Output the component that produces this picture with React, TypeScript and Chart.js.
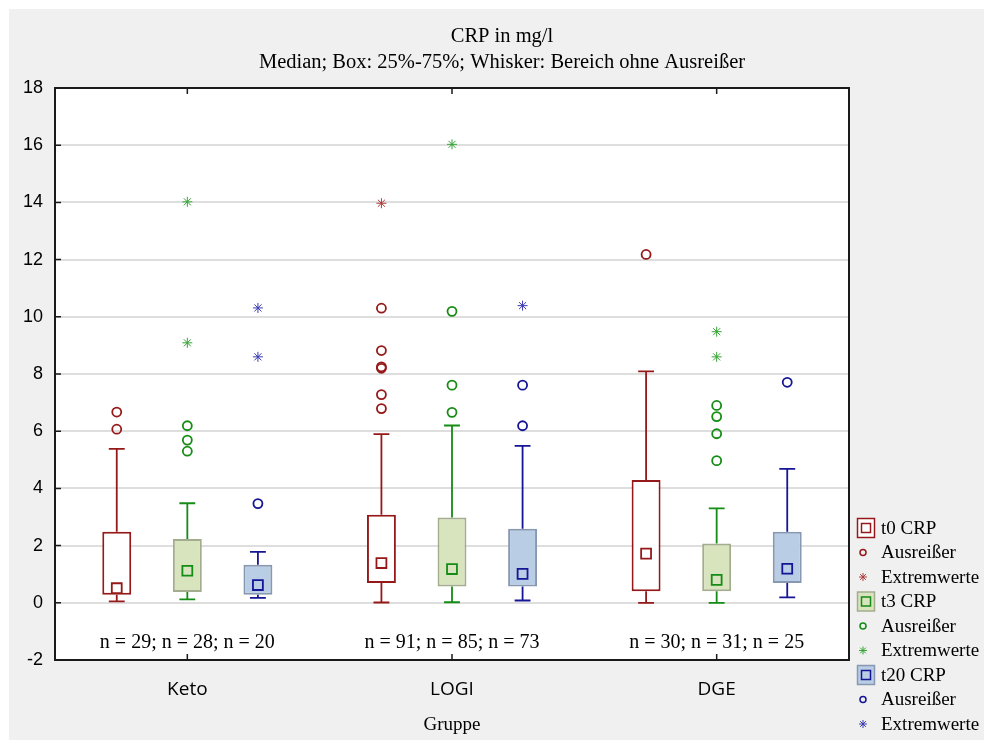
import React, { useEffect, useRef } from 'react';
import { Chart, registerables } from 'chart.js';
Chart.register(...registerables);

const groups = ['Keto', 'LOGI', 'DGE'];
const nLabels = ['n = 29; n = 28; n = 20', 'n = 91; n = 85; n = 73', 'n = 30; n = 31; n = 25'];
const titleText = 'CRP in mg/l';
const subtitleText = 'Median; Box: 25%-75%; Whisker: Bereich ohne Ausreißer';
const xTitle = 'Gruppe';
const seriesNames = ['t0 CRP', 't3 CRP', 't20 CRP'];
const outlierLabel = 'Ausreißer';
const extremeLabel = 'Extremwerte';
const yMin = -2;
const yMax = 18;
const yStep = 2;

// t0 CRP
const t0Q1 = [0.28, 0.69, 0.4];
const t0Q3 = [2.48, 3.08, 4.29];
const t0Median = [0.51, 1.39, 1.72];
const t0Min = [0.05, 0.01, 0.0];
const t0Max = [5.38, 5.9, 8.09];
const t0Outliers = [[6.67, 6.07], [10.3, 8.82, 8.25, 8.2, 7.28, 6.79], [12.18]];
const t0Extremes = [[], [13.97], []];

// t3 CRP
const t3Q1 = [0.38, 0.57, 0.4];
const t3Q3 = [2.23, 2.98, 2.07];
const t3Median = [1.12, 1.18, 0.8];
const t3Min = [0.12, 0.02, 0.0];
const t3Max = [3.48, 6.2, 3.3];
const t3Outliers = [[6.19, 5.69, 5.3], [10.19, 7.61, 6.66], [6.9, 6.51, 5.91, 4.97]];
const t3Extremes = [[9.09, 14.02], [16.03], [9.48, 8.6]];

// t20 CRP
const t20Q1 = [0.28, 0.57, 0.69];
const t20Q3 = [1.33, 2.59, 2.48];
const t20Median = [0.62, 1.01, 1.19];
const t20Min = [0.17, 0.08, 0.19];
const t20Max = [1.78, 5.49, 4.68];
const t20Outliers = [[3.47], [7.61, 6.19], [7.71]];
const t20Extremes = [[10.31, 8.6], [10.39], []];

const styles = [
  { dark: '#961919', boxFill: '#ffffff', boxBorder: '#961919', extreme: '#b03a3a' },
  { dark: '#158c15', boxFill: '#d7e4bd', boxBorder: '#a3ad8e', extreme: '#37a537' },
  { dark: '#151596', boxFill: '#b9cde5', boxBorder: '#8898b2', extreme: '#3a3ab0' },
];

const series = [
  { q1: t0Q1, q3: t0Q3, med: t0Median, min: t0Min, max: t0Max, out: t0Outliers, ext: t0Extremes },
  { q1: t3Q1, q3: t3Q3, med: t3Median, min: t3Min, max: t3Max, out: t3Outliers, ext: t3Extremes },
  { q1: t20Q1, q3: t20Q3, med: t20Median, min: t20Min, max: t20Max, out: t20Outliers, ext: t20Extremes },
];

const SERIF = '"Liberation Serif", "Times New Roman", serif';
const SANS = '"Liberation Sans", Arial, sans-serif';
const XSANS = '"Open Sans", "Noto Sans", sans-serif';

function drawStar(ctx: CanvasRenderingContext2D, x: number, y: number, r: number) {
  ctx.beginPath();
  ctx.moveTo(x - r, y); ctx.lineTo(x + r, y);
  ctx.moveTo(x, y - r); ctx.lineTo(x, y + r);
  const d = r * Math.SQRT1_2;
  ctx.moveTo(x - d, y - d); ctx.lineTo(x + d, y + d);
  ctx.moveTo(x - d, y + d); ctx.lineTo(x + d, y - d);
  ctx.stroke();
}

const decorPlugin = {
  id: 'decor',
  beforeDraw(chart: any) {
    const { ctx, width, height, chartArea } = chart;
    ctx.save();
    ctx.fillStyle = '#ffffff';
    ctx.fillRect(0, 0, width, height);
    ctx.fillStyle = '#f0f0f0';
    ctx.fillRect(9, 9, width - 9, height - 9);
    ctx.fillStyle = '#ffffff';
    ctx.fillRect(chartArea.left, chartArea.top, chartArea.right - chartArea.left, chartArea.bottom - chartArea.top);
    ctx.restore();
  },
  afterDatasetsDraw(chart: any) {
    const { ctx, scales } = chart;
    const xs = scales.x;
    const ys = scales.y;
    ctx.save();
    ctx.fillStyle = '#000000';
    ctx.font = `20px ${SERIF}`;
    ctx.textAlign = 'center';
    ctx.textBaseline = 'middle';
    nLabels.forEach((t, i) => {
      ctx.fillText(t, xs.getPixelForValue(i), ys.getPixelForValue(-1.4));
    });
    ctx.restore();
  },
  afterDraw(chart: any) {
    const { ctx, chartArea, scales } = chart;
    const xs = scales.x;
    const ys = scales.y;
    const { left, right, top, bottom } = chartArea;
    ctx.save();
    // inward ticks
    ctx.strokeStyle = '#1a1a1a';
    ctx.lineWidth = 1.5;
    ctx.beginPath();
    for (let i = 0; i < groups.length; i++) {
      const px = xs.getPixelForValue(i);
      ctx.moveTo(px, bottom); ctx.lineTo(px, bottom - 6);
      ctx.moveTo(px, top); ctx.lineTo(px, top + 6);
    }
    for (let v = yMin; v <= yMax; v += yStep) {
      const py = ys.getPixelForValue(v);
      ctx.moveTo(left, py); ctx.lineTo(left + 6, py);
    }
    ctx.stroke();
    // frame
    ctx.strokeStyle = '#1a1a1a';
    ctx.lineWidth = 2;
    ctx.strokeRect(left, top, right - left, bottom - top);

    // titles
    ctx.fillStyle = '#000000';
    ctx.font = `20.5px ${SERIF}`;
    ctx.textAlign = 'center';
    ctx.textBaseline = 'middle';
    ctx.fillText(titleText, 502, 37);
    ctx.fillText(subtitleText, 502, 63);
    ctx.font = `19px ${SERIF}`;
    ctx.fillText(xTitle, (left + right) / 2, 725);

    // legend
    const lx = 866;
    let ly = 528;
    const dy = 24.5;
    for (let s = 0; s < 3; s++) {
      const st = styles[s];
      ctx.fillStyle = st.boxFill;
      ctx.fillRect(lx - 8.5, ly - 9.5, 17, 19);
      ctx.strokeStyle = st.boxBorder;
      ctx.lineWidth = 1.5;
      ctx.strokeRect(lx - 8.5, ly - 9.5, 17, 19);
      ctx.strokeStyle = st.dark;
      ctx.strokeRect(lx - 4.5, ly - 4.5, 9, 9);
      ctx.fillStyle = '#000000';
      ctx.textAlign = 'left';
      ctx.fillText(seriesNames[s], 881, ly + 1);
      ly += dy;
      ctx.beginPath();
      ctx.strokeStyle = st.dark;
      ctx.lineWidth = 1.5;
      ctx.arc(lx - 3, ly, 3, 0, Math.PI * 2);
      ctx.stroke();
      ctx.fillText(outlierLabel, 881, ly + 1);
      ly += dy;
      ctx.strokeStyle = st.extreme;
      ctx.lineWidth = 1;
      drawStar(ctx, lx - 3, ly, 4);
      ctx.fillText(extremeLabel, 881, ly + 1);
      ly += dy;
    }
    ctx.restore();
  },
};

const OFFSET = 0.8 / 3;
const CAP = 0.03;

function buildDatasets() {
  const ds: any[] = [];
  series.forEach((s, si) => {
    const st = styles[si];
    const off = (si - 1) * OFFSET;
    ds.push({
      type: 'bar',
      label: seriesNames[si],
      data: s.q1.map((q, g) => ({ x: g + off, y: [q, s.q3[g]] })),
      backgroundColor: st.boxFill,
      borderColor: st.boxBorder,
      borderWidth: 2,
      borderSkipped: false,
      grouped: false,
      categoryPercentage: 1,
      barPercentage: 0.41,
      maxBarThickness: 29,
      xAxisID: 'x2',
      yAxisID: 'y',
      order: 5,
    });
  });
  series.forEach((s, si) => {
    const st = styles[si];
    const off = (si - 1) * OFFSET;
    const pts: any[] = [];
    groups.forEach((_, g) => {
      const x = g + off;
      pts.push({ x, y: s.min[g] }, { x, y: s.q1[g] }, { x, y: null });
      pts.push({ x, y: s.q3[g] }, { x, y: s.max[g] }, { x, y: null });
      pts.push({ x: x - CAP, y: s.min[g] }, { x: x + CAP, y: s.min[g] }, { x, y: null });
      pts.push({ x: x - CAP, y: s.max[g] }, { x: x + CAP, y: s.max[g] }, { x, y: null });
    });
    ds.push({
      type: 'scatter',
      label: seriesNames[si] + ' whisker',
      data: pts,
      showLine: true,
      spanGaps: false,
      borderColor: st.dark,
      borderWidth: 1.8,
      pointRadius: 0,
      xAxisID: 'x2',
      yAxisID: 'y',
      order: 4,
    });
    ds.push({
      type: 'scatter',
      label: seriesNames[si] + ' median',
      data: s.med.map((m, g) => ({ x: g + off, y: m })),
      pointStyle: 'rect',
      pointRadius: 7,
      pointBorderWidth: 1.8,
      pointBackgroundColor: st.boxFill,
      pointBorderColor: st.dark,
      xAxisID: 'x2',
      yAxisID: 'y',
      order: 2,
    });
    const outPts: any[] = [];
    s.out.forEach((arr, g) => arr.forEach((v) => outPts.push({ x: g + off, y: v })));
    ds.push({
      type: 'scatter',
      label: outlierLabel,
      data: outPts,
      pointStyle: 'circle',
      pointRadius: 4.5,
      pointBorderWidth: 1.8,
      pointBackgroundColor: 'rgba(0,0,0,0)',
      pointBorderColor: st.dark,
      xAxisID: 'x2',
      yAxisID: 'y',
      order: 1,
    });
    const extPts: any[] = [];
    s.ext.forEach((arr, g) => arr.forEach((v) => extPts.push({ x: g + off, y: v })));
    ds.push({
      type: 'scatter',
      label: extremeLabel,
      data: extPts,
      pointStyle: 'star',
      pointRadius: 5,
      pointBorderWidth: 1,
      pointBackgroundColor: 'rgba(0,0,0,0)',
      pointBorderColor: st.extreme,
      xAxisID: 'x2',
      yAxisID: 'y',
      order: 1,
    });
  });
  return ds;
}

export default function App() {
  const ref = useRef<HTMLCanvasElement | null>(null);
  useEffect(() => {
    if (!ref.current) return;
    const chart = new Chart(ref.current, {
      type: 'bar',
      data: { labels: groups, datasets: buildDatasets() },
      options: {
        animation: false,
        responsive: false,
        maintainAspectRatio: false,
        layout: { padding: { top: 88, right: 135, bottom: 0, left: 0 } },
        plugins: { legend: { display: false }, tooltip: { enabled: false }, title: { display: false } },
        scales: {
          x: {
            type: 'category',
            labels: groups,
            offset: true,
            grid: { display: false },
            border: { display: false },
            ticks: { color: '#000000', font: { family: XSANS, size: 19 }, padding: 10 },
            afterFit: (scale: any) => { scale.height = 80; },
          },
          x2: {
            type: 'linear',
            display: false,
            offset: false,
            grid: { offset: false },
            min: -0.5,
            max: 2.5,
          },
          y: {
            type: 'linear',
            min: yMin,
            max: yMax,
            ticks: { stepSize: yStep, color: '#000000', font: { family: SANS, size: 18 }, padding: 12 },
            grid: {
              drawTicks: false,
              lineWidth: 2,
              color: (c: any) => (c.tick && (c.tick.value === yMin || c.tick.value === yMax) ? 'rgba(0,0,0,0)' : '#dedede'),
            },
            border: { display: false },
            afterFit: (scale: any) => { scale.width = 55; },
          },
        },
      } as any,
      plugins: [decorPlugin],
    });
    return () => chart.destroy();
  }, []);
  return (
    <div style={{ position: 'fixed', left: 0, top: 0, width: 984, height: 740 }}>
      <canvas ref={ref} width={984} height={740} style={{ display: 'block', width: 984, height: 740 }} />
    </div>
  );
}
